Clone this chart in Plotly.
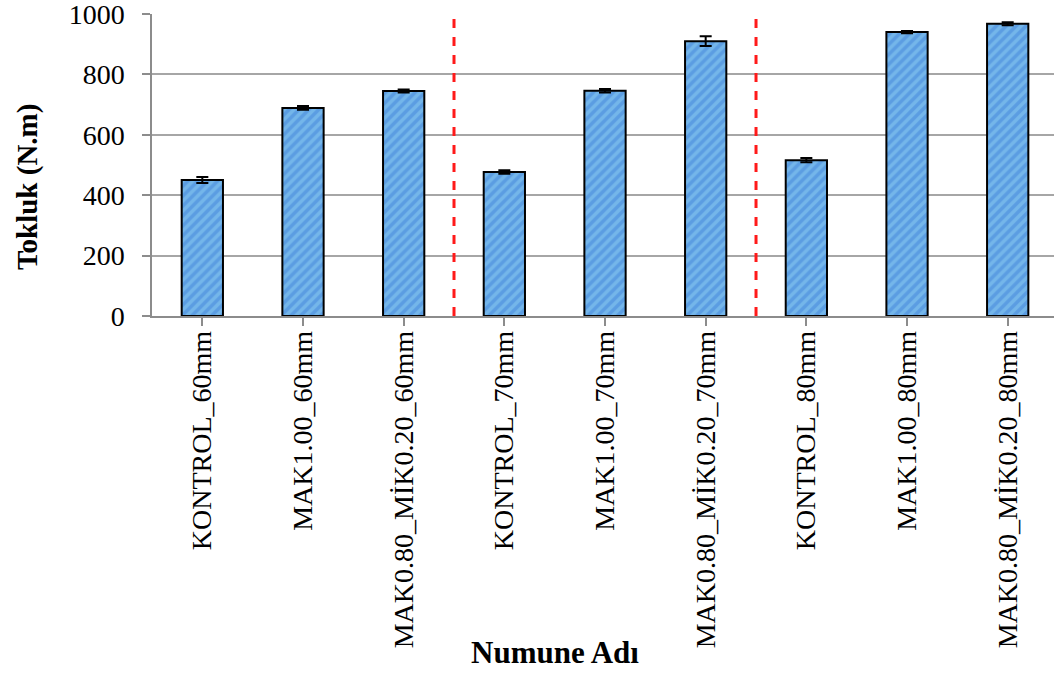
import plotly.graph_objects as go

categories = [
    "KONTROL_60mm", "MAK1.00_60mm", "MAK0.80_MİK0.20_60mm",
    "KONTROL_70mm", "MAK1.00_70mm", "MAK0.80_MİK0.20_70mm",
    "KONTROL_80mm", "MAK1.00_80mm", "MAK0.80_MİK0.20_80mm",
]
tokluk = [450, 689, 745, 477, 746, 910, 516, 940, 968]
hata = [10, 6, 5, 6, 6, 16, 7, 4, 5]
y_ticks = [0, 200, 400, 600, 800, 1000]
group_splits = [2.5, 5.5]

font_family = "Times New Roman, Liberation Serif, serif"

fig = go.Figure()
fig.add_trace(go.Bar(
    x=list(range(len(categories))),
    y=tokluk,
    width=0.41,
    marker=dict(
        color="#5b9de2",
        line=dict(color="black", width=2),
        pattern=dict(shape="/", fgcolor="#8ed0f2", bgcolor="#5b9de2",
                     size=7, solidity=0.5),
    ),
    error_y=dict(type="data", array=hata, visible=True,
                 color="black", thickness=2, width=6),
))

for xs in group_splits:
    fig.add_shape(type="line", x0=xs, x1=xs, y0=0, y1=1000,
                  xref="x", yref="y",
                  line=dict(color="#ff1a1a", width=3, dash="dash"))

# axis titles placed as annotations in paper space
fig.add_annotation(text="<b>Tokluk (N.m)</b>", textangle=-90,
                   xref="paper", yref="paper", x=-0.1386, y=0.43,
                   xanchor="center", yanchor="middle", showarrow=False,
                   font=dict(size=29, family=font_family, color="black"))
fig.add_annotation(text="<b>Numune Adı</b>",
                   xref="paper", yref="paper", x=0.447, y=-1.115,
                   xanchor="center", yanchor="middle", showarrow=False,
                   font=dict(size=31, family=font_family, color="black"))

fig.update_layout(
    width=1054, height=674,
    margin=dict(l=152, r=0, t=14, b=358),
    plot_bgcolor="white", paper_bgcolor="white",
    showlegend=False,
    font=dict(family=font_family, color="black"),
)
fig.update_xaxes(
    automargin=False,
    range=[-0.5, 8.46],
    tickmode="array",
    tickvals=list(range(len(categories))),
    ticktext=categories,
    tickangle=-90,
    tickfont=dict(size=28, family=font_family, color="black"),
    ticks="outside", ticklen=8, tickcolor="#8c8c8c", tickwidth=1.5,
    tickson="boundaries",
    ticklabelstandoff=-6,
    ticklabeloverflow="allow",
    showline=True, linecolor="#8c8c8c", linewidth=1.5,
    showgrid=False,
)
fig.update_yaxes(
    automargin=False,
    range=[0, 1000],
    tickvals=y_ticks,
    tickfont=dict(size=28, family=font_family, color="black"),
    ticks="outside", ticklen=8, tickcolor="#8c8c8c", tickwidth=1.5,
    ticklabelstandoff=12,
    ticklabeloverflow="allow",
    showline=True, linecolor="#8c8c8c", linewidth=1.5,
    showgrid=True, gridcolor="#a6a6a6", gridwidth=1.5,
    zeroline=False,
)

fig.write_html("out.html")
